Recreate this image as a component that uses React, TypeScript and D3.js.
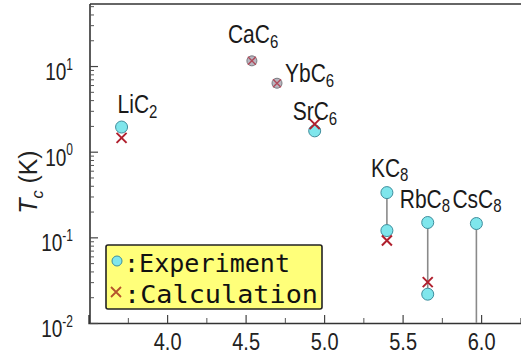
import React, { useEffect, useRef } from 'react';
import * as d3 from 'd3';

// compounds, layer distance (x) and Tc values
const compounds = ['LiC2', 'CaC6', 'YbC6', 'SrC6', 'KC8', 'RbC8', 'CsC8'];
const labelBase = ['LiC', 'CaC', 'YbC', 'SrC', 'KC', 'RbC', 'CsC'];
const labelSub = ['2', '6', '6', '6', '8', '8', '8'];
const layerDistance = [3.71, 4.54, 4.70, 4.94, 5.40, 5.66, 5.97];
const tcExperiment = [[1.94], [11.5], [6.3], [1.75], [0.333, 0.12], [0.149, 0.0217], [0.145]];
const tcCalculation = [1.45, 11.5, 6.3, 2.1, 0.092, 0.03, null];
const boundBelow = [false, false, false, false, false, false, true];

const xMajor = [4.0, 4.5, 5.0, 5.5, 6.0];
const xMinor = [3.75, 4.25, 4.75, 5.25, 5.75, 6.25];
const yMajor = [0.01, 0.1, 1, 10];
const yExp = ['-2', '-1', '0', '1'];

const legendItems = [':Experiment', ':Calculation'];

// label offsets from the top experimental point (layout only)
const labelOffset = [[-4, -14], [-24, -18], [8, -1], [-22, -11], [-16, -16], [-28, -15], [-24, -16]];

const W = 521;
const H = 358;
const STRETCH = 1.2;

const App = () => {
  const ref = useRef<SVGSVGElement>(null);

  useEffect(() => {
    if (!ref.current) return;
    const svg = d3.select(ref.current);
    svg.selectAll('*').remove();

    const x = d3.scaleLinear().domain([3.5, 6.3]).range([88.6, 88.6 + 2.8 * 157]);
    const y = d3.scaleLog().domain([0.01, 53]).range([323, 4]);
    const left = 90;
    const bottom = 323;
    const font = '"Liberation Sans", Arial, sans-serif';

    svg.append('rect').attr('width', W).attr('height', H).attr('fill', '#fff');

    // top frame
    svg.append('line')
      .attr('x1', left).attr('x2', W + 5).attr('y1', 4).attr('y2', 4)
      .attr('stroke', '#666').attr('stroke-width', 2);

    // x axis
    const gx = svg.append('g').attr('transform', `translate(0,${bottom})`)
      .call(d3.axisBottom(x).tickValues(xMajor).tickSize(-8).tickPadding(8).tickFormat(d3.format('.1f')));
    gx.call(g => g.select('.domain').attr('stroke', '#333').attr('stroke-width', 1.6));
    gx.selectAll('.tick line').attr('stroke', '#444').attr('stroke-width', 1.2);
    gx.selectAll('.tick text')
      .attr('font-family', font).attr('font-size', 20).attr('fill', '#222')
      .attr('transform', `scale(1,${STRETCH})`);

    svg.append('g').attr('transform', `translate(0,${bottom})`)
      .call(d3.axisBottom(x).tickValues(xMinor).tickSize(-5).tickFormat(() => ''))
      .call(g => g.select('.domain').remove())
      .selectAll('.tick line').attr('stroke', '#555').attr('stroke-width', 1);

    // y axis
    const minors: number[] = [];
    for (let e = -2; e <= 1; e++) {
      for (let m = 2; m <= 9; m++) {
        const v = m * Math.pow(10, e);
        if (v < 53) minors.push(v);
      }
    }
    const gy = svg.append('g').attr('transform', `translate(${left},0)`)
      .call(d3.axisLeft(y).tickValues(yMajor).tickSize(-8).tickFormat(() => ''));
    gy.call(g => g.select('.domain').attr('stroke', '#333').attr('stroke-width', 1.6).attr('d', `M0,${bottom}V4`));
    gy.selectAll('.tick line').attr('stroke', '#444').attr('stroke-width', 1.2);

    svg.append('g').attr('transform', `translate(${left},0)`)
      .call(d3.axisLeft(y).tickValues(minors).tickSize(-4).tickFormat(() => ''))
      .call(g => g.select('.domain').remove())
      .selectAll('.tick line').attr('stroke', '#555').attr('stroke-width', 1);

    yMajor.forEach((v, i) => {
      const t = svg.append('g')
        .attr('transform', `translate(73,${y(v) + 14}) scale(1,${STRETCH + 0.1})`)
        .append('text')
        .attr('text-anchor', 'end')
        .attr('font-family', font).attr('font-size', 19).attr('fill', '#222')
        .text('10');
      t.append('tspan')
        .attr('dy', -8).attr('font-size', 12)
        .text(yExp[i]);
    });

    // y label
    const yl = svg.append('text')
      .attr('transform', `translate(37,182) rotate(-90) scale(1.08,1.1)`)
      .attr('text-anchor', 'middle')
      .attr('font-family', font).attr('font-size', 23).attr('fill', '#222');
    yl.append('tspan').attr('font-style', 'italic').text('T');
    yl.append('tspan').attr('font-style', 'italic').attr('font-size', 15).attr('dy', 5).text('c');
    yl.append('tspan').attr('dy', -5).text(' (K)');

    // vertical ranges
    compounds.forEach((c, i) => {
      const vals = tcExperiment[i];
      const top = d3.max(vals) as number;
      const low = boundBelow[i] ? 0.01 : (d3.min(vals) as number);
      if (low < top) {
        svg.append('line')
          .attr('x1', x(layerDistance[i])).attr('x2', x(layerDistance[i]))
          .attr('y1', y(top)).attr('y2', y(low))
          .attr('stroke', '#8a8a8a').attr('stroke-width', 1.6);
      }
    });

    // markers
    const cross = (g: any, cx: number, cy: number, s: number, color: string, w: number) => {
      g.append('path')
        .attr('d', `M${cx - s},${cy - s}L${cx + s},${cy + s}M${cx - s},${cy + s}L${cx + s},${cy - s}`)
        .attr('stroke', color).attr('stroke-width', w).attr('fill', 'none');
    };

    compounds.forEach((c, i) => {
      const cx = x(layerDistance[i]);
      const calc = tcCalculation[i];
      const overlap = calc != null && tcExperiment[i].some(v => Math.abs(Math.log10(v) - Math.log10(calc)) < 0.02);
      tcExperiment[i].forEach(v => {
        svg.append('circle')
          .attr('cx', cx).attr('cy', y(v))
          .attr('r', overlap ? 5 : 6)
          .attr('fill', overlap ? '#b9b6c0' : '#7fe6ec')
          .attr('stroke', overlap ? '#7a7a80' : '#3e8d9c')
          .attr('stroke-width', 1);
      });
      if (calc != null) {
        cross(svg, cx, y(calc), overlap ? 4 : 5, overlap ? '#b04a5a' : '#b0202e', overlap ? 1.4 : 2);
      }
    });

    // compound labels
    compounds.forEach((c, i) => {
      const px = x(layerDistance[i]) + labelOffset[i][0];
      const py = y(d3.max(tcExperiment[i]) as number) + labelOffset[i][1];
      const t = svg.append('g')
        .attr('transform', `translate(${px},${py}) scale(1,${STRETCH})`)
        .append('text')
        .attr('font-family', font).attr('font-size', 21).attr('fill', '#1a1a1a')
        .text(labelBase[i]);
      t.append('tspan').attr('dy', 4).attr('font-size', 15).text(labelSub[i]);
    });

    // legend
    const lg = svg.append('g');
    lg.append('rect')
      .attr('x', 106).attr('y', 245).attr('width', 216).attr('height', 64)
      .attr('rx', 2)
      .attr('fill', '#ffff7a').attr('stroke', '#222').attr('stroke-width', 1.6);
    lg.append('circle').attr('cx', 117).attr('cy', 261).attr('r', 5)
      .attr('fill', '#7fe6ec').attr('stroke', '#3e8d9c').attr('stroke-width', 1);
    cross(lg, 116, 292, 5, '#b5532c', 1.8);
    legendItems.forEach((txt, i) => {
      lg.append('text')
        .attr('x', 124).attr('y', 272 + i * 31)
        .attr('font-family', '"DejaVu Sans Mono", monospace')
        .attr('font-size', 25).attr('fill', '#111')
        .attr('textLength', i === 0 ? 166 : 194)
        .attr('lengthAdjust', 'spacingAndGlyphs')
        .text(txt);
    });
  }, []);

  return (
    <svg
      ref={ref}
      width={W}
      height={H}
      style={{ position: 'absolute', left: 0, top: 0 }}
    />
  );
};

export default App;
